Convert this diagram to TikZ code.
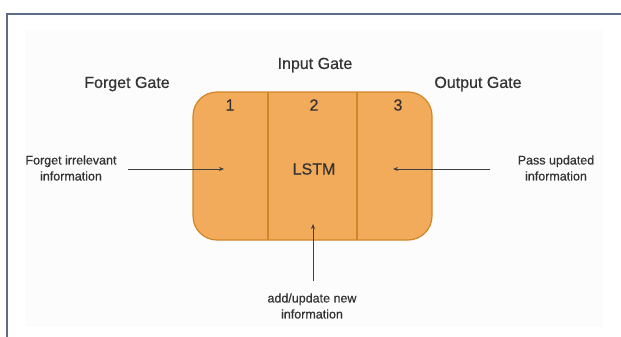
\documentclass[tikz,border=0pt]{standalone}
\usepackage{fontspec}
\setmainfont{Liberation Sans}
\newfontfamily\medfont[FakeBold=0.6]{Liberation Sans}
\usetikzlibrary{arrows.meta}
\definecolor{cellfill}{HTML}{F2AB5B}
\definecolor{celledge}{HTML}{D08628}
\definecolor{inktext}{HTML}{333333}
\definecolor{framecol}{HTML}{5C6B86}
\definecolor{panelcol}{HTML}{FCFCFC}
\begin{document}
\begin{tikzpicture}[x=1pt,y=-1pt,
  gatelabel/.style={font=\medfont\fontsize{16}{18}\selectfont, text=inktext},
  sidelabel/.style={font=\medfont\fontsize{12.5}{16}\selectfont, text=inktext, align=center},
  numlabel/.style={font=\medfont\fontsize{16}{18}\selectfont, text=inktext},
  feed/.style={draw=black!75, line width=0.8pt, -{Stealth[length=5pt,width=4pt]}}]
\useasboundingbox (0,0) rectangle (621,337);
\fill[white] (0,0) rectangle (621,337);
% page frame and inner panel
\fill[panelcol] (25,30) rectangle (603,327);
\draw[framecol, line width=1.8pt] (7,337) -- (7,14) -- (621,14);
% LSTM cell with three gate sections
\draw[fill=cellfill, draw=celledge, line width=1.2pt, rounded corners=24pt]
  (193,92) rectangle (432,240);
\draw[celledge, line width=1.2pt] (268,92) -- (268,240);
\draw[celledge, line width=1.2pt] (357,92) -- (357,240);
\node[numlabel] (n1) at (230,105) {1};
\node[numlabel] (n2) at (314,105) {2};
\node[numlabel] (n3) at (398,105) {3};
\node[gatelabel] (lstm) at (314,169) {LSTM};
% gate titles
\node[gatelabel] (fg) at (127,84) {Forget Gate};
\node[gatelabel] (ig) at (315,65) {Input Gate};
\node[gatelabel] (og) at (478,84) {Output Gate};
% inputs to each gate
\node[sidelabel] (forgetin) at (71,168) {Forget irrelevant\\information};
\node[sidelabel] (passin) at (556,168) {Pass updated\\information};
\node[sidelabel] (addin) at (312,306) {add/update new\\information};
\coordinate (leftTip) at (224,169);
\coordinate (rightTip) at (393,169);
\coordinate (bottomTip) at (313,224);
\coordinate (leftStart) at (128,169);
\coordinate (rightStart) at (490,169);
\coordinate (bottomStart) at (313,281);
\draw[feed] (leftStart) -- (leftTip);
\draw[feed] (rightStart) -- (rightTip);
\draw[feed] (bottomStart) -- (bottomTip);
\end{tikzpicture}
\end{document}
